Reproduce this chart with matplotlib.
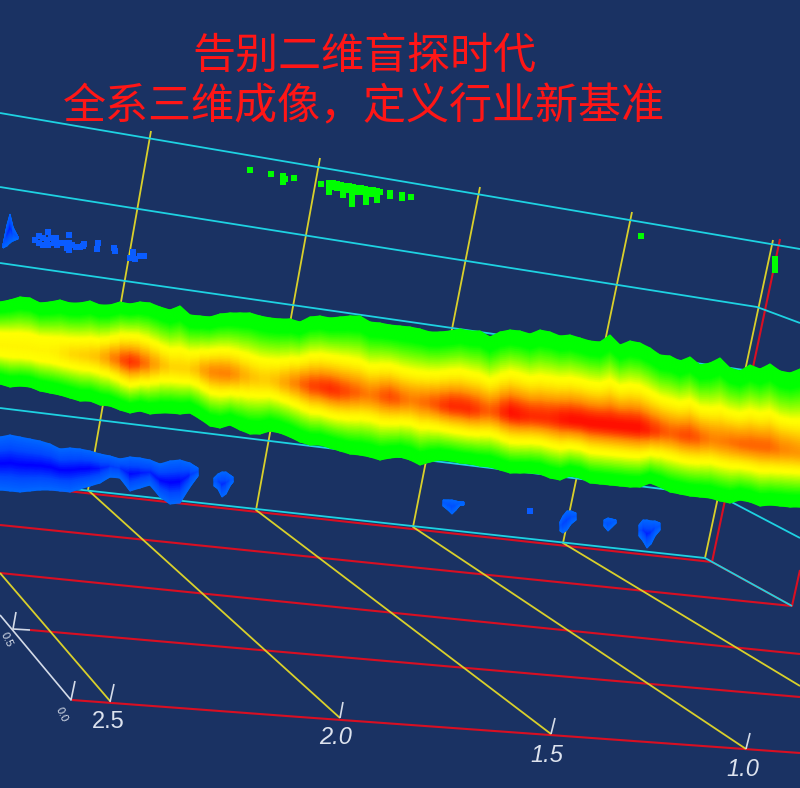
import matplotlib
matplotlib.use("Agg")
import matplotlib.pyplot as plt
import numpy as np
from matplotlib.colors import LinearSegmentedColormap

plt.rcParams["font.family"] = ["Noto Sans CJK SC", "DejaVu Sans"]

BG = "#1a3263"

title_lines = ["告别二维盲探时代", "全系三维成像，定义行业新基准"]

cyan_lines = [
    [(0, 113), (800, 249)],
    [(0, 187), (757, 307), (800, 323)],
    [(0, 263), (800, 378)],
    [(0, 408), (720, 496), (800, 538)],
    [(0, 481), (705, 558), (792, 606)],
]
red_lines = [
    [(40, 488), (712, 562), (780, 239)],
    [(712, 562), (792, 606), (800, 570)],
    [(0, 525), (792, 606)],
    [(0, 573), (800, 654)],
    [(30, 630), (800, 697)],
    [(72, 700), (300, 717), (800, 753)],
]
yellow_lines = [
    [(151, 131), (88, 490), (340, 718)],
    [(320, 158), (256, 510), (551, 734)],
    [(480, 187), (413, 527), (746, 749)],
    [(632, 212), (563, 543), (800, 686)],
    [(773, 240), (705, 558)],
    [(0, 573), (110, 701)],
]
white_lines = [
    [(0, 615), (71, 700), (75, 681)],
    [(16, 612), (13, 629), (30, 630)],
    [(110, 702), (114, 684)],
    [(340, 718), (343, 702)],
    [(551, 734), (555, 718)],
    [(746, 749), (750, 733)],
]

x_labels = ["2.5", "2.0", "1.5", "1.0"]
x_label_x = [108, 336, 547, 743]
x_label_y = [722, 738, 755, 769]
y_labels = ["0.0", "0.5"]
y_label_x = [62, 7]
y_label_y = [715, 640]

# main band, one station every 10 px
band_x = list(range(0, 801, 10))
band_top = [302, 300, 297, 298, 303, 302, 300, 303, 303, 301, 305, 305, 302, 304, 302, 303, 307, 310, 306, 315,
            316, 317, 314, 313, 313, 313, 316, 318, 319, 319, 322, 317, 316, 318, 317, 316, 316, 322, 323, 325,
            326, 327, 329, 332, 332, 331, 329, 331, 331, 337, 332, 330, 331, 334, 330, 332, 336, 335, 338, 341,
            342, 335, 345, 341, 343, 348, 355, 356, 361, 357, 365, 363, 358, 368, 371, 365, 369, 364, 371, 373, 369]
band_bottom = [384, 387, 386, 387, 391, 393, 395, 398, 401, 401, 405, 406, 410, 413, 411, 414, 413, 413, 414, 413,
               419, 426, 428, 425, 430, 434, 434, 431, 433, 437, 442, 445, 445, 448, 451, 454, 455, 457, 460, 458,
               457, 460, 465, 462, 460, 461, 463, 464, 466, 467, 470, 473, 473, 473, 474, 478, 480, 476, 478, 483,
               484, 485, 486, 487, 487, 483, 487, 492, 494, 496, 497, 498, 501, 503, 500, 502, 506, 505, 506, 507, 507]
band_ridge = [345, 346, 347, 348, 350, 351, 353, 354, 355, 356, 357, 358, 360, 362, 363, 364, 365, 367, 368, 369,
              370, 372, 373, 374, 375, 377, 379, 380, 382, 383, 384, 386, 387, 389, 391, 392, 393, 395, 396, 397,
              399, 400, 402, 403, 405, 406, 407, 409, 410, 411, 412, 413, 415, 416, 417, 418, 419, 420, 421, 423,
              424, 425, 426, 427, 428, 430, 431, 433, 435, 436, 438, 439, 441, 442, 444, 445, 446, 447, 449, 450, 452]
band_peak = [.52, .52, .52, .52, .52, .52, .54, .58, .6, .62, .66, .76, .85, .95, .88, .78, .68, .6, .6, .6,
             .68, .78, .8, .8, .72, .66, .62, .62, .68, .75, .82, .9, .92, .95, .92, .88, .84, .8, .85, .9,
             .85, .8, .82, .85, .9, .95, .95, .95, .9, .85, .92, 1, .98, .95, .95, .95, .98, 1, 1, 1,
             1, 1, 1, 1, 1, .95, .9, .85, .88, .9, .85, .8, .8, .82, .84, .85, .85, .85, .8, .78, .75]

# blue blobs: x stations, upper edge, lower edge
blue_blobs = [
    ([0, 10, 20, 30, 40, 50, 60, 70, 80, 90, 100, 110, 120, 130, 140, 150, 160, 170, 180, 190, 198],
     [437, 435, 437, 439, 441, 444, 449, 448, 449, 451, 454, 456, 459, 457, 458, 460, 464, 461, 460, 463, 468],
     [490, 491, 492, 491, 490, 490, 491, 492, 489, 486, 483, 477, 478, 491, 488, 485, 497, 504, 503, 487, 476]),
    ([214, 218, 222, 226, 230, 233], [478, 474, 472, 472, 475, 477], [486, 489, 497, 494, 486, 482]),
    ([443, 448, 452, 456, 460, 464], [500, 500, 500, 501, 502, 502], [506, 510, 514, 510, 505, 505]),
    ([560, 563, 567, 571, 576], [522, 516, 511, 511, 513], [531, 533, 530, 524, 520]),
    ([604, 608, 612, 616], [520, 518, 519, 520], [526, 531, 527, 523]),
    ([639, 643, 647, 651, 655, 660], [525, 520, 520, 521, 521, 523], [536, 541, 548, 544, 536, 530]),
    ([3, 7, 10, 13, 18], [245, 225, 214, 227, 237], [248, 246, 243, 241, 239]),
]

blue_dots_x = [35, 39, 39, 43, 43, 47, 48, 48, 51, 54, 56, 57, 60, 63, 67, 69, 69, 69, 72, 76, 80, 83, 84,
               98, 97, 115, 114, 133, 133, 135, 130, 140, 144, 530]
blue_dots_y = [240, 236, 243, 238, 245, 240, 232, 245, 238, 243, 238, 245, 243, 243, 248, 235, 243, 250, 245, 247,
               247, 246, 244, 243, 249, 251, 248, 252, 256, 259, 258, 256, 256, 511]

green_dots_x = [250, 271, 283, 285, 283, 294, 321, 329, 333, 337, 341, 345, 349, 353, 357, 361, 365, 369, 373, 377,
                380, 329, 333, 337, 343, 347, 352, 356, 361, 366, 371, 377, 329, 343, 352, 352, 352, 366, 366, 377,
                377, 390, 390, 402, 402, 411, 641, 775, 775, 775, 775, 775]
green_dots_y = [170, 174, 176, 179, 182, 178, 184, 183, 183, 184, 185, 186, 186, 187, 188, 188, 189, 190, 190, 191,
                192, 188, 187, 188, 190, 190, 191, 192, 192, 193, 194, 195, 192, 195, 196, 200, 204, 198, 202, 197,
                200, 193, 196, 195, 198, 197, 236, 259, 262, 265, 268, 270]

fig = plt.figure(figsize=(8, 7.88), dpi=100, facecolor=BG)
ax = fig.add_axes([0, 0, 1, 1])
ax.set_xlim(0, 800)
ax.set_ylim(788, 0)
ax.axis("off")


def draw_lines(lines, color, width, zorder):
    for line in lines:
        xs, ys = zip(*line)
        ax.plot(xs, ys, color=color, lw=width, zorder=zorder, solid_joinstyle="round", solid_capstyle="butt")


draw_lines(red_lines, "#d90f22", 1.5, 2)
draw_lines(yellow_lines, "#d9d02b", 1.3, 3)
draw_lines(cyan_lines, "#1ed2e2", 1.3, 3)
draw_lines(white_lines, "#d4dbe8", 1.2, 4)

heat = LinearSegmentedColormap.from_list(
    "heat", [(0, "#00ff00"), (0.12, "#00ff00"), (0.5, "#ffff00"), (0.78, "#ff9000"), (1, "#ff1000")]
)
blues = LinearSegmentedColormap.from_list("blues", ["#0068ff", "#0048ff", "#0000ff"])

# band: every column runs edge -> ridge -> edge, colour rises towards the column's peak
s = np.linspace(-1, 1, 81)
bx = np.array(band_x, dtype=float)
top = np.array(band_top, dtype=float)
bottom = np.array(band_bottom, dtype=float)
ridge = np.array(band_ridge, dtype=float)
peak = np.array(band_peak)
X = np.outer(bx, np.ones_like(s))
Y = ridge[:, None] + np.where(s < 0, (ridge - top)[:, None] * s, (bottom - ridge)[:, None] * s)
d = (1 - np.abs(s))[None, :]
yellow_at = (0.72 - 0.22 * (peak - 0.52) / 0.48)[:, None]
low = 0.5 * (np.minimum(d, yellow_at) / yellow_at) ** 1.3
t = np.clip((d - yellow_at) / (1 - yellow_at), 0, 1)
C = low + (peak[:, None] - 0.5) * t * t * (3 - 2 * t)
ax.pcolormesh(X, Y, C, cmap=heat, vmin=0, vmax=1, shading="gouraud", zorder=5)

# blue blobs
s2 = np.linspace(-1, 1, 21)
for xs, ups, downs in blue_blobs:
    xs = np.array(xs, dtype=float)
    ups = np.array(ups, dtype=float)
    downs = np.array(downs, dtype=float)
    mid = (ups + downs) / 2
    BX = np.outer(xs, np.ones_like(s2))
    BY = mid[:, None] + (downs - ups)[:, None] / 2 * s2
    BC = np.outer(np.clip((downs - ups) / 35, 0.1, 1), 1 - np.abs(s2))
    ax.pcolormesh(BX, BY, BC, cmap=blues, vmin=0, vmax=1, shading="gouraud", zorder=5)

ax.scatter(blue_dots_x, blue_dots_y, s=14, marker="s", color="#0a5cff", linewidths=0, zorder=5)
ax.scatter(green_dots_x, green_dots_y, s=16, marker="s", color="#00ff00", linewidths=0, zorder=5)

ax.text(364, 57, title_lines[0], color="#ff1616", fontsize=31, ha="center", va="center", zorder=6)
ax.text(364, 107, title_lines[1], color="#ff1616", fontsize=31, ha="center", va="center", zorder=6)

for label, lx, ly in zip(x_labels, x_label_x, x_label_y):
    ax.text(lx, ly, label, color="#dde3ee", fontsize=17, family="Liberation Sans",
            style="normal" if label == "2.5" else "italic", ha="center", va="center", zorder=6)
for label, lx, ly in zip(y_labels, y_label_x, y_label_y):
    ax.text(lx, ly, label, color="#dde3ee", fontsize=8, family="Liberation Sans", rotation=-65,
            ha="center", va="center", zorder=6)

fig.savefig("out.png", dpi=100, facecolor=BG)
plt.close(fig)
